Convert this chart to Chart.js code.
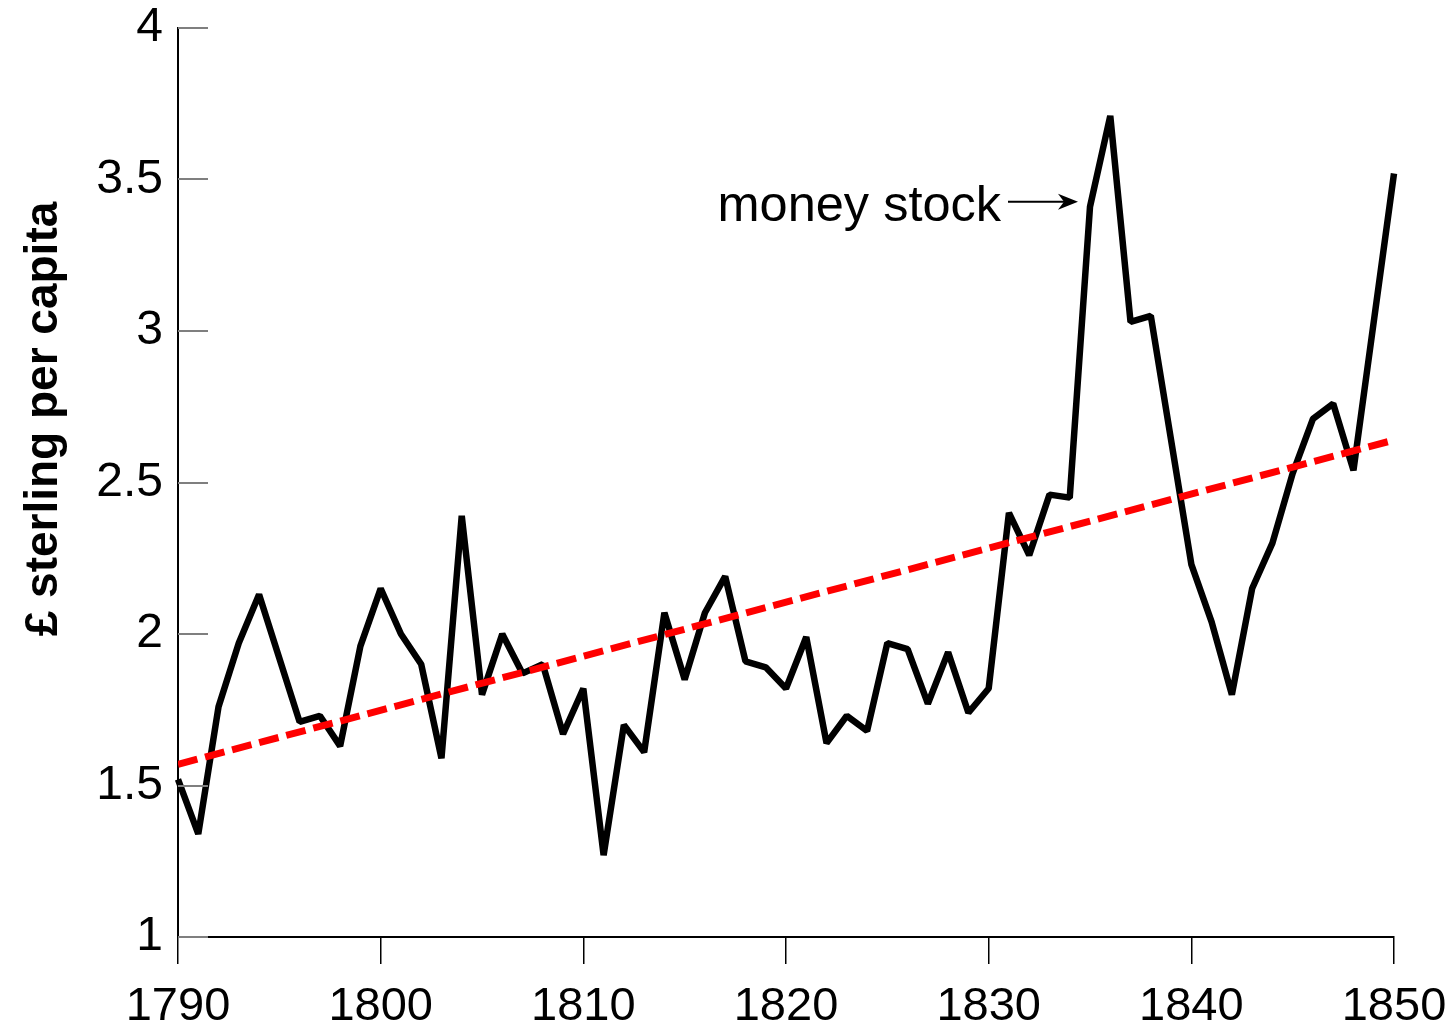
<!DOCTYPE html>
<html>
<head>
<meta charset="utf-8">
<script src="https://cdn.jsdelivr.net/npm/chart.js@4.4.1/dist/chart.umd.min.js"></script>
<style>
html,body{margin:0;padding:0;background:#fff;}
#wrap{width:1452px;height:1031px;}
</style>
</head>
<body>
<div id="wrap"><canvas id="c" width="1452" height="1031"></canvas></div>
<script>
// ---- data ----
const years = [];
for (let y = 1790; y <= 1850; y++) years.push(y);
const moneyStock = [
  1.52, 1.34, 1.76, 1.97, 2.13, 1.92, 1.71, 1.73, 1.63, 1.96,
  2.15, 2.00, 1.90, 1.59, 2.39, 1.80, 2.00, 1.87, 1.90, 1.67,
  1.82, 1.27, 1.70, 1.61, 2.07, 1.85, 2.07, 2.19, 1.91, 1.89,
  1.82, 1.99, 1.64, 1.73, 1.68, 1.97, 1.95, 1.77, 1.94, 1.74,
  1.82, 2.40, 2.26, 2.46, 2.45, 3.41, 3.71, 3.03, 3.05, 2.64,
  2.23, 2.04, 1.80, 2.15, 2.30, 2.53, 2.71, 2.76, 2.54, 3.03,
  3.52
];
const trendYears = [1790, 1850];
const trendValues = [1.57, 2.64];
const xTickLabels = ['1790', '1800', '1810', '1820', '1830', '1840', '1850'];
const yTickLabels = ['1', '1.5', '2', '2.5', '3', '3.5', '4'];
const yTitle = '£ sterling per capita';
const annotationText = 'money stock';
const annotationYear = 1835;
const annotationValue = 3.41;

const FONT = '"Liberation Sans", Arial, sans-serif';

function noPad(s) {
  s.paddingTop = 0; s.paddingBottom = 0; s.paddingLeft = 0; s.paddingRight = 0;
}

const customDraw = {
  id: 'customDraw',
  afterDraw(chart) {
    const ctx = chart.ctx;
    const ys = chart.scales.y, xs = chart.scales.x;
    ctx.save();
    // inward y tick marks
    ctx.strokeStyle = '#7f7f7f';
    ctx.lineWidth = 2;
    ys.ticks.forEach(t => {
      const py = Math.round(ys.getPixelForValue(t.value));
      ctx.beginPath();
      ctx.moveTo(xs.left, py);
      ctx.lineTo(xs.left + 30, py);
      ctx.stroke();
    });
    // y axis title
    ctx.fillStyle = '#000';
    ctx.font = 'bold 46px ' + FONT;
    ctx.textAlign = 'center';
    ctx.textBaseline = 'alphabetic';
    ctx.translate(57, 419);
    ctx.rotate(-Math.PI / 2);
    ctx.fillText(yTitle, 0, 0);
    ctx.restore();

    // annotation
    ctx.save();
    const ax = xs.getPixelForValue(annotationYear);
    const ay = ys.getPixelForValue(annotationValue);
    ctx.fillStyle = '#000';
    ctx.font = '50.5px ' + FONT;
    ctx.textAlign = 'right';
    ctx.textBaseline = 'alphabetic';
    const tipX = ax - 12, tipY = ay - 5;
    ctx.fillText(annotationText, tipX - 77, tipY + 19);
    ctx.strokeStyle = '#000';
    ctx.lineWidth = 2;
    ctx.beginPath();
    ctx.moveTo(tipX - 70, tipY);
    ctx.lineTo(tipX - 4, tipY);
    ctx.stroke();
    ctx.beginPath();
    ctx.moveTo(tipX, tipY);
    ctx.lineTo(tipX - 20, tipY - 8);
    ctx.lineTo(tipX - 14, tipY);
    ctx.lineTo(tipX - 20, tipY + 8);
    ctx.closePath();
    ctx.fill();
    ctx.restore();
  }
};

new Chart(document.getElementById('c'), {
  type: 'line',
  data: {
    datasets: [
      {
        label: 'trend',
        data: trendYears.map((x, i) => ({x: x, y: trendValues[i]})),
        borderColor: '#ff0000',
        borderWidth: 7,
        borderDash: [20, 8],
        borderCapStyle: 'butt',
        pointRadius: 0,
        fill: false,
        tension: 0
      },
      {
        label: 'money stock',
        data: years.map((x, i) => ({x: x, y: moneyStock[i]})),
        borderColor: '#000000',
        borderWidth: 6.5,
        borderJoinStyle: 'bevel',
        pointRadius: 0,
        fill: false,
        clip: 4,
        tension: 0
      }
    ]
  },
  options: {
    responsive: false,
    animation: false,
    devicePixelRatio: 1,
    layout: {padding: {left: 0, right: 58, top: 28, bottom: 0}},
    plugins: {legend: {display: false}, tooltip: {enabled: false}},
    scales: {
      x: {
        type: 'linear',
        min: 1790, max: 1850,
        afterFit(s) { s.height = 94; noPad(s); },
        afterBuildTicks(s) { s.ticks = xTickLabels.map(l => ({value: Number(l)})); },
        border: {display: true, color: '#000', width: 2},
        grid: {display: true, drawOnChartArea: false, drawTicks: true, tickLength: 27, color: '#000', lineWidth: 1.5},
        ticks: {
          font: {family: FONT, size: 47},
          color: '#000',
          padding: 15,
          maxRotation: 0,
          autoSkip: false,
          callback: (v) => xTickLabels[xTickLabels.indexOf(String(v))]
        }
      },
      y: {
        type: 'linear',
        min: 1, max: 4,
        afterFit(s) { s.width = 178; noPad(s); },
        afterBuildTicks(s) { s.ticks = yTickLabels.map(l => ({value: Number(l)})); },
        border: {display: true, color: '#000', width: 2},
        grid: {display: false},
        ticks: {
          font: {family: FONT, size: 48},
          color: '#000',
          padding: 7,
          autoSkip: false,
          callback: (v) => yTickLabels[yTickLabels.indexOf(String(v))]
        }
      }
    }
  },
  plugins: [customDraw]
});
</script>
</body>
</html>
